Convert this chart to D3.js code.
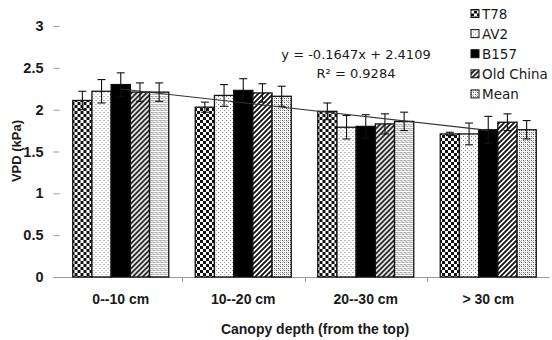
<!DOCTYPE html>
<html>
<head>
<meta charset="utf-8">
<script src="https://cdn.jsdelivr.net/npm/d3@7/dist/d3.min.js"></script>
<style>
  html, body { margin: 0; padding: 0; background: #fff; }
  svg { display: block; }
</style>
</head>
<body>
<svg id="chart" width="552" height="340"></svg>
<script>
// Canopy-depth classes on the x axis
const categories = ["0--10 cm", "10--20 cm", "20--30 cm", "> 30 cm"];
// Cultivars plus their mean
const seriesNames = ["T78", "AV2", "B157", "Old China", "Mean"];
// VPD (kPa) per series, one value per depth class
const valT78      = [2.11, 2.03, 1.98, 1.71];
const valAV2      = [2.22, 2.17, 1.79, 1.71];
const valB157     = [2.30, 2.23, 1.80, 1.76];
const valOldChina = [2.21, 2.20, 1.83, 1.85];
const valMean     = [2.21, 2.16, 1.86, 1.76];
// Error bar half-lengths
const errT78      = [0.11, 0.06, 0.10, 0.02];
const errAV2      = [0.14, 0.13, 0.14, 0.13];
const errB157     = [0.14, 0.14, 0.14, 0.16];
const errOldChina = [0.11, 0.11, 0.12, 0.10];
const errMean     = [0.11, 0.12, 0.11, 0.11];
// Linear trend fitted to the mean series (x = 1..4)
const trendSlope = -0.1647;
const trendIntercept = 2.4109;
const trendR2 = 0.9284;
const yTicks = [0, 0.5, 1, 1.5, 2, 2.5, 3];

const values = [valT78, valAV2, valB157, valOldChina, valMean];
const errors = [errT78, errAV2, errB157, errOldChina, errMean];

const svg = d3.select("#chart");
const defs = svg.append("defs");

// Fill patterns
function pattern(id, size, draw) {
  const p = defs.append("pattern").attr("id", id)
    .attr("patternUnits", "userSpaceOnUse")
    .attr("width", size).attr("height", size);
  p.append("rect").attr("width", size).attr("height", size).attr("fill", "#fff");
  draw(p);
}
pattern("pT78", 6, p => {
  p.append("rect").attr("x", 0).attr("y", 0).attr("width", 3).attr("height", 3).attr("fill", "#111");
  p.append("rect").attr("x", 3).attr("y", 3).attr("width", 3).attr("height", 3).attr("fill", "#111");
});
pattern("pAV2", 4, p => {
  p.append("rect").attr("x", 0).attr("y", 0).attr("width", 1).attr("height", 1).attr("fill", "#777");
  p.append("rect").attr("x", 2).attr("y", 2).attr("width", 1).attr("height", 1).attr("fill", "#999");
});
pattern("pB157", 4, p => {
  p.append("rect").attr("width", 4).attr("height", 4).attr("fill", "#000");
});
pattern("pOld", 5, p => {
  p.append("path").attr("d", "M-1,6 L6,-1 M-1,1 L1,-1 M4,6 L6,4")
    .attr("stroke", "#111").attr("stroke-width", 1.8);
});
pattern("pMean", 4, p => {
  p.append("rect").attr("x", 0).attr("y", 0).attr("width", 1).attr("height", 1).attr("fill", "#555");
  p.append("rect").attr("x", 2).attr("y", 2).attr("width", 1).attr("height", 1).attr("fill", "#555");
  p.append("rect").attr("x", 2).attr("y", 0).attr("width", 1).attr("height", 1).attr("fill", "#999");
  p.append("rect").attr("x", 0).attr("y", 2).attr("width", 1).attr("height", 1).attr("fill", "#999");
  p.append("rect").attr("x", 1).attr("y", 1).attr("width", 1).attr("height", 1).attr("fill", "#bbb");
});
const fills = ["url(#pT78)", "url(#pAV2)", "url(#pB157)", "url(#pOld)", "url(#pMean)"];

const plot = { left: 59.5, right: 549.5, top: 26, bottom: 277 };

const x0 = d3.scaleBand().domain(categories).range([plot.left, plot.right]).padding(0);
const x1 = d3.scaleBand().domain(seriesNames).range([0, x0.bandwidth()])
  .paddingInner(0).paddingOuter(0.69);
const y = d3.scaleLinear().domain([0, 3]).range([plot.bottom, plot.top]);

const textColor = "#1a1a1a";
const axisGray = "#9a9a9a";

// Y axis: tick dashes and bold labels, no axis line
const yAxis = svg.append("g").attr("transform", `translate(${plot.left},0)`)
  .call(d3.axisLeft(y).tickValues(yTicks).tickFormat(d3.format("")).tickSize(6).tickPadding(10));
yAxis.select(".domain").remove();
yAxis.selectAll(".tick line").attr("stroke", axisGray);
yAxis.selectAll(".tick text")
  .attr("font-family", "'Liberation Sans', Arial, sans-serif")
  .attr("font-weight", "bold").attr("font-size", "14.5px").attr("fill", textColor);

// X axis
const xAxis = svg.append("g").attr("transform", `translate(0,${plot.bottom})`)
  .call(d3.axisBottom(x0).tickSize(0).tickPadding(17));
xAxis.select(".domain").attr("stroke", axisGray).attr("d", `M${plot.left - 6},0.5H${plot.right}`);
xAxis.selectAll(".tick text")
  .attr("font-family", "'Liberation Sans', Arial, sans-serif")
  .attr("font-weight", "bold").attr("font-size", "14px").attr("fill", textColor);
// category separator ticks
svg.append("g").selectAll("line")
  .data(categories.slice(1))
  .join("line")
  .attr("x1", d => Math.round(x0(d)) + 0.5).attr("x2", d => Math.round(x0(d)) + 0.5)
  .attr("y1", plot.bottom).attr("y2", plot.bottom + 5)
  .attr("stroke", axisGray);

// Bars
const groups = svg.append("g").selectAll("g")
  .data(categories)
  .join("g")
  .attr("transform", d => `translate(${x0(d)},0)`);

groups.selectAll("rect")
  .data((c, ci) => seriesNames.map((s, si) => ({ s, si, v: values[si][ci], e: errors[si][ci] })))
  .join("rect")
  .attr("x", d => x1(d.s))
  .attr("y", d => y(d.v))
  .attr("width", x1.bandwidth())
  .attr("height", d => y(0) - y(d.v))
  .attr("fill", d => fills[d.si])
  .attr("stroke", "#111").attr("stroke-width", 1.3);

// Error bars
const eb = groups.selectAll("g.err")
  .data((c, ci) => seriesNames.map((s, si) => ({ s, si, v: values[si][ci], e: errors[si][ci] })))
  .join("g").attr("class", "err")
  .attr("stroke", "#111").attr("stroke-width", 1.1);
const cx = d => x1(d.s) + x1.bandwidth() / 2;
eb.append("line").attr("x1", cx).attr("x2", cx)
  .attr("y1", d => y(d.v - d.e)).attr("y2", d => y(d.v + d.e));
eb.append("line").attr("x1", d => cx(d) - 4).attr("x2", d => cx(d) + 4)
  .attr("y1", d => y(d.v + d.e)).attr("y2", d => y(d.v + d.e));
eb.append("line").attr("x1", d => cx(d) - 4).attr("x2", d => cx(d) + 4)
  .attr("y1", d => y(d.v - d.e)).attr("y2", d => y(d.v - d.e));

// Linear trendline of the mean, at the category centres
const trendPts = [1, 4].map(k => [x0(categories[k - 1]) + x0.bandwidth() / 2, trendSlope * k + trendIntercept]);
svg.append("path")
  .attr("d", d3.line().x(d => d[0]).y(d => y(d[1]))(trendPts))
  .attr("stroke", "#333").attr("stroke-width", 1.1).attr("fill", "none");

// Trend equation
const eq = svg.append("g")
  .attr("font-family", "'DejaVu Sans', sans-serif").attr("font-size", "13px")
  .attr("fill", textColor).attr("text-anchor", "middle");
eq.append("text").attr("x", 356).attr("y", 59)
  .text(`y = ${trendSlope}x + ${trendIntercept}`);
eq.append("text").attr("x", 356).attr("y", 78)
  .text(`R\u00B2 = ${trendR2}`);

// Legend
const legend = svg.append("g").selectAll("g")
  .data(seriesNames)
  .join("g")
  .attr("transform", (d, i) => `translate(471,${13.5 + i * 20.1})`);
legend.append("rect")
  .attr("x", 0).attr("y", -4).attr("width", 8).attr("height", 8)
  .attr("fill", (d, i) => fills[i]).attr("stroke", "#111").attr("stroke-width", 1);
legend.append("text")
  .attr("x", 11).attr("y", 5)
  .attr("font-family", "'DejaVu Sans', sans-serif").attr("font-size", "13.5px")
  .attr("fill", textColor)
  .text(d => d);

// Axis titles
svg.append("text")
  .attr("transform", `translate(21,151) rotate(-90)`)
  .attr("text-anchor", "middle")
  .attr("font-family", "'Liberation Sans', Arial, sans-serif")
  .attr("font-weight", "bold").attr("font-size", "13px").attr("fill", textColor)
  .text("VPD (kPa)");
svg.append("text")
  .attr("x", 315).attr("y", 334)
  .attr("text-anchor", "middle")
  .attr("font-family", "'Liberation Sans', Arial, sans-serif")
  .attr("font-weight", "bold").attr("font-size", "14px").attr("fill", textColor)
  .text("Canopy depth (from the top)");
</script>
</body>
</html>
